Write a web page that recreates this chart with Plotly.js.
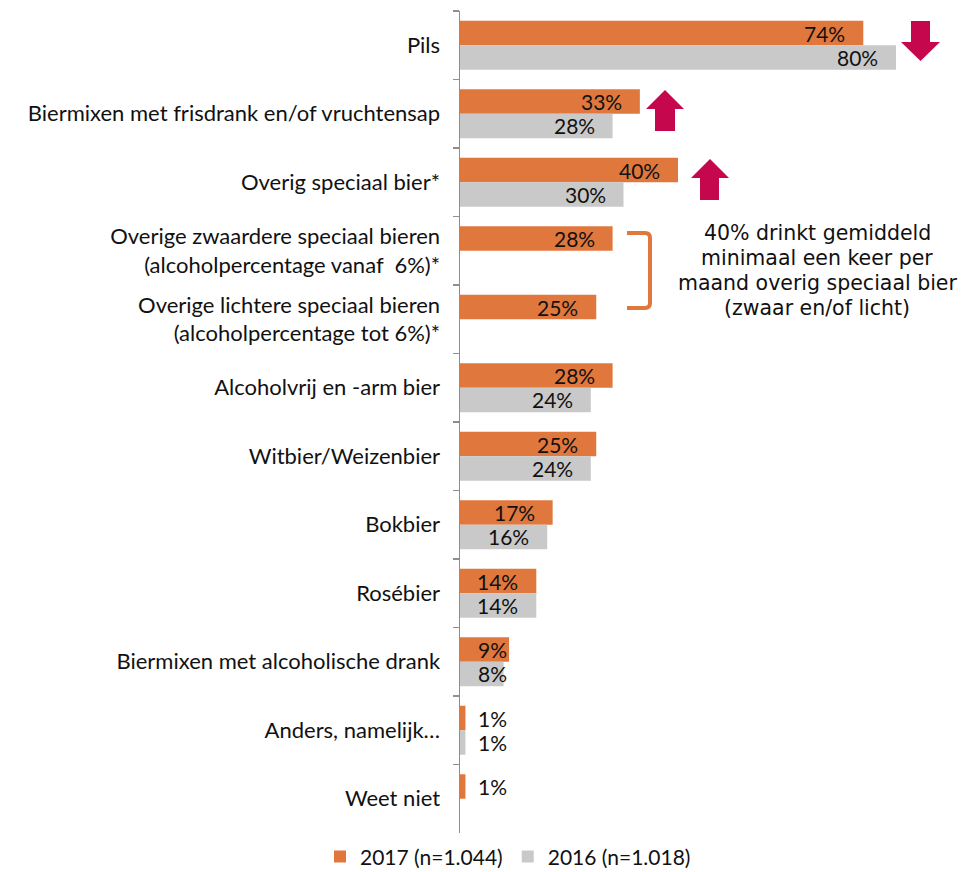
<!DOCTYPE html>
<html>
<head>
<meta charset="utf-8">
<script src="https://cdn.plot.ly/plotly-3.0.1.min.js"></script>
<style>
  html, body { margin: 0; padding: 0; background: #ffffff; }
  #chart { width: 961px; height: 872px; }
</style>
</head>
<body>
<div id="chart"></div>
<script>
// ---- data ----
const categories = [
  'Pils',
  'Biermixen met frisdrank en/of vruchtensap',
  'Overig speciaal bier*',
  'Overige zwaardere speciaal bieren<br>(alcoholpercentage vanaf  6%)*',
  'Overige lichtere speciaal bieren<br>(alcoholpercentage tot 6%)*',
  'Alcoholvrij en -arm bier',
  'Witbier/Weizenbier',
  'Bokbier',
  'Rosébier',
  'Biermixen met alcoholische drank',
  'Anders, namelijk…',
  'Weet niet'
];
const values2017 = [74, 33, 40, 28, 25, 28, 25, 17, 14, 9, 1, 1];
const values2016 = [80, 28, 30, null, null, 24, 24, 16, 14, 8, 1, null];
const seriesNames = ['2017 (n=1.044)', '2016 (n=1.018)'];
const noteLines = ['40% drinkt gemiddeld', 'minimaal een keer per', 'maand overig speciaal bier', '(zwaar en/of licht)'];

// ---- styling ----
const W = 961, H = 872;
const M = { l: 460, r: 11, t: 11, b: 39, autoexpand: false };
const plotW = W - M.l - M.r, plotH = H - M.t - M.b;
const pxPerUnit = 5.45;
const orange = '#E0773D', grey = '#C9C9C9', crimson = '#C5084E';
const bargap = 0.285;
const catPx = plotH / categories.length;
const barPx = (1 - bargap) / 2 * catPx;

const px = x => (x - M.l) / plotW;
const py = y => (H - M.b - y) / plotH;

const traces = [
  { type: 'bar', orientation: 'h', name: seriesNames[0], y: categories, x: values2017,
    marker: { color: orange }, hoverinfo: 'none' },
  { type: 'bar', orientation: 'h', name: seriesNames[1], y: categories, x: values2016,
    marker: { color: grey }, hoverinfo: 'none' }
];

// value labels
const annotations = [];
[values2017, values2016].forEach((vals, s) => {
  vals.forEach((v, i) => {
    if (v === null) return;
    const small = v < 10;
    annotations.push({
      xref: 'x', yref: 'y', x: small ? 0 : v, y: categories[i],
      xanchor: small ? 'left' : 'right', yanchor: 'middle',
      xshift: small ? 16 : -16,
      yshift: s === 0 ? barPx / 2 : -barPx / 2,
      text: v + '%', showarrow: false,
      font: { family: 'Lato, sans-serif', size: 21, color: '#111' }
    });
  });
});
noteLines.forEach((line, k) => {
  annotations.push({
    xref: 'paper', yref: 'paper', x: px(817), y: py(233 + 25 * k),
    xanchor: 'center', yanchor: 'middle', align: 'center',
    text: line, showarrow: false,
    font: { family: 'DejaVu Sans, sans-serif', size: 20.5, color: '#111' }
  });
});

// decorative arrows and bracket
function blockArrow(x0, x1, sx0, sx1, yTail, yHead, yTip) {
  const cx = (x0 + x1) / 2;
  return `M${px(sx0)},${py(yTail)} L${px(sx1)},${py(yTail)} L${px(sx1)},${py(yHead)} L${px(x1)},${py(yHead)} L${px(cx)},${py(yTip)} L${px(x0)},${py(yHead)} L${px(sx0)},${py(yHead)} Z`;
}
const shapes = [
  { type: 'path', xref: 'paper', yref: 'paper', line: { width: 0 }, fillcolor: crimson,
    path: blockArrow(901, 940, 911, 930, 21, 42, 61) },
  { type: 'path', xref: 'paper', yref: 'paper', line: { width: 0 }, fillcolor: crimson,
    path: blockArrow(646, 684, 655, 675, 131, 109, 90) },
  { type: 'path', xref: 'paper', yref: 'paper', line: { width: 0 }, fillcolor: crimson,
    path: blockArrow(691, 729, 700, 719, 200, 178, 159) },
  { type: 'path', xref: 'paper', yref: 'paper', line: { width: 4, color: orange },
    path: `M${px(627)},${py(233)} L${px(645)},${py(233)} Q${px(650)},${py(233)} ${px(650)},${py(238)} L${px(650)},${py(303)} Q${px(650)},${py(308)} ${px(645)},${py(308)} L${px(627)},${py(308)}` }
];

const layout = {
  width: W, height: H,
  margin: M,
  paper_bgcolor: '#fff', plot_bgcolor: '#fff',
  barmode: 'group', bargap: bargap, bargroupgap: 0,
  showlegend: true,
  legend: { orientation: 'h', x: px(508), xanchor: 'center', y: -0.004, yanchor: 'top',
            font: { family: 'Lato, sans-serif', size: 21, color: '#111' }, traceorder: 'normal' },
  xaxis: { range: [0, plotW / pxPerUnit], showgrid: false, zeroline: false,
           showticklabels: false, showline: false, ticks: '', fixedrange: true },
  yaxis: { type: 'category', range: [categories.length - 0.5, -0.5], showgrid: false, zeroline: false,
           showline: true, linecolor: '#8E8E8E', linewidth: 1.5,
           ticks: 'outside', tickson: 'boundaries', ticklen: 6, tickcolor: '#8E8E8E', tickwidth: 1.5,
           ticklabelstandoff: 14,
           tickfont: { family: 'Lato, sans-serif', size: 22, color: '#111' }, fixedrange: true },
  annotations: annotations,
  shapes: shapes
};

Plotly.newPlot('chart', traces, layout, { displayModeBar: false, staticPlot: true });
</script>
</body>
</html>
